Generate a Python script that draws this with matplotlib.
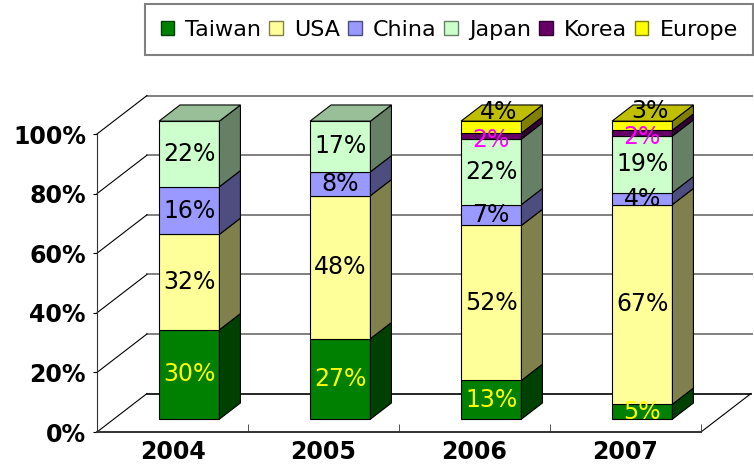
import matplotlib.pyplot as plt
import matplotlib.colors as mcolors
from matplotlib.patches import Polygon, Patch

# data (share of total, %)
years = ['2004', '2005', '2006', '2007']
regions = ['Taiwan', 'USA', 'China', 'Japan', 'Korea', 'Europe']
taiwan = [30, 27, 13, 5]
usa = [32, 48, 52, 67]
china = [16, 8, 7, 4]
japan = [22, 17, 22, 19]
korea = [0, 0, 2, 2]
europe = [0, 0, 4, 3]
series = [taiwan, usa, china, japan, korea, europe]

colors = ['#008000', '#FFFF99', '#9999FF', '#CCFFCC', '#660066', '#FFFF00']
label_colors = ['#FFFF00', 'black', 'black', 'black', '#FF00FF', 'black']
# label nudges (x in categories, y in %) like excel puts them
label_dx = [0, 0, 0, 0, 0, 0.05]
label_dy = [0, 0, 0, 0, -1.3, 5.0]


def shade(c, k):
    r, g, b = mcolors.to_rgb(c)
    return (r * k, g * k, b * k)


# 3d look: floor depth and bar placement
dx, dy = 0.331, 12.9
f0 = 0.335   # bar front in depth fraction
fs = 0.42    # bar depth fraction
bw = 0.40

fig = plt.figure(figsize=(7.54, 4.68), dpi=100)
ax = fig.add_axes([97 / 754, 36 / 468, 604 / 754, 298 / 468])
ax.set_xlim(0, 4)
ax.set_ylim(0, 100)

# walls and floor
for v in range(20, 101, 20):
    ax.plot([dx, 4 + dx + 0.01], [v + dy, v + dy], color='#808080', lw=1.4,
            clip_on=False, zorder=1)
for v in range(0, 101, 20):
    ax.plot([0, dx], [v, v + dy], color='black', lw=0.8, clip_on=False, zorder=1)
ax.plot([dx, 4 + dx], [dy, dy], color='black', lw=1.2, clip_on=False, zorder=1)
ax.plot([4, 4 + dx], [0, dy], color='black', lw=0.8, clip_on=False, zorder=1)

for i in range(len(years)):
    x0 = i + 0.5 - bw / 2 + f0 * dx
    base = f0 * dy
    bottom = 0
    sx, sy = fs * dx, fs * dy
    last = None
    for k, vals in enumerate(series):
        v = vals[i]
        if v == 0:
            continue
        y0 = base + bottom
        y1 = y0 + v
        ax.add_patch(Polygon([(x0, y0), (x0 + bw, y0), (x0 + bw, y1), (x0, y1)],
                             closed=True, fc=colors[k], ec='black', lw=0.8,
                             clip_on=False, zorder=3))
        ax.add_patch(Polygon([(x0 + bw, y0), (x0 + bw + sx, y0 + sy),
                              (x0 + bw + sx, y1 + sy), (x0 + bw, y1)],
                             closed=True, fc=shade(colors[k], 0.5), ec='black',
                             lw=0.8, clip_on=False, zorder=3))
        bottom += v
        last = (k, y1)
    k, y1 = last
    ax.add_patch(Polygon([(x0, y1), (x0 + bw, y1), (x0 + bw + sx, y1 + sy),
                          (x0 + sx, y1 + sy)],
                         closed=True, fc=shade(colors[k], 0.75), ec='black',
                         lw=0.8, clip_on=False, zorder=3))
    # labels
    bottom = 0
    for k, vals in enumerate(series):
        v = vals[i]
        if v == 0:
            continue
        ax.text(x0 + bw / 2 + label_dx[k], base + bottom + v / 2 + label_dy[k],
                f'{v}%', ha='center', va='center', fontsize=17,
                color=label_colors[k], zorder=5, clip_on=False)
        bottom += v

# axes
for s in ['top', 'right']:
    ax.spines[s].set_visible(False)
ax.spines['left'].set_color('#333333')
ax.spines['bottom'].set_color('#333333')
ax.spines['bottom'].set_linewidth(1.4)
ax.set_yticks(range(0, 101, 20))
ax.set_yticklabels([f'{v}%' for v in range(0, 101, 20)], fontsize=17,
                   fontweight='bold')
ax.tick_params(axis='y', length=3, pad=5)
ax.set_xticks([i + 0.5 for i in range(len(years))])
ax.set_xticklabels(years, fontsize=17, fontweight='bold')
ax.set_xticks(range(len(years) + 1), minor=True)
ax.tick_params(axis='x', which='major', length=0, pad=6)
ax.tick_params(axis='x', which='minor', length=6, direction='in', color='#333333')
ax.patch.set_visible(False)

handles = [Patch(fc=c, ec=shade(c, 0.5), lw=1) for c in colors]
leg = fig.legend(handles, regions, loc='upper left',
                 bbox_to_anchor=(145 / 754, 1 - 4 / 468), ncol=6, fontsize=16,
                 handlelength=0.62, handleheight=0.62, handletextpad=0.5,
                 columnspacing=0.35, borderpad=0.7, borderaxespad=0,
                 fancybox=False, edgecolor='#808080', framealpha=1)
leg.get_frame().set_linewidth(1.5)

fig.savefig('out.png', dpi=100)
